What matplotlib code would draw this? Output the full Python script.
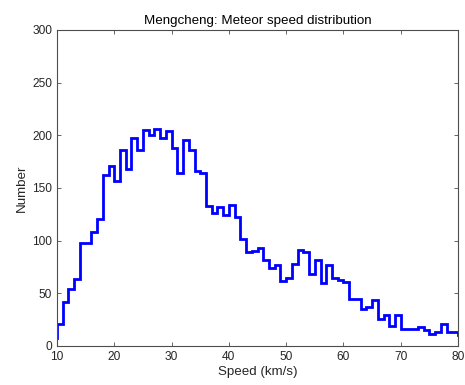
import numpy as np
import matplotlib
matplotlib.use("Agg")
import matplotlib.pyplot as plt

# Histogram of meteor speeds, 1 km/s bins (left edges 9..80)
bin_edges = np.arange(9, 82, 1)
counts = [
    8,                                  # 9
    21, 42, 54, 64, 98, 98, 108, 121, 162, 171,       # 10-19
    157, 186, 168, 197, 186, 205, 200, 206, 197, 204,  # 20-29
    188, 164, 196, 186, 166, 164, 133, 126, 132, 124,  # 30-39
    134, 122, 102, 89, 90, 93, 82, 74, 77, 62,         # 40-49
    65, 78, 91, 89, 68, 82, 60, 77, 65, 63,            # 50-59
    61, 45, 45, 35, 37, 44, 26, 29, 19, 29,            # 60-69
    16, 16, 16, 18, 15, 11, 13, 21, 13, 13,            # 70-79
    10,                                 # 80
]

x_ticks = [10, 20, 30, 40, 50, 60, 70, 80]
y_ticks = [0, 50, 100, 150, 200, 250, 300]

plt.rcParams["font.family"] = ["Liberation Sans", "DejaVu Sans"]

fig = plt.figure(figsize=(4.65, 3.85), dpi=100)
ax = fig.add_axes([0.1226, 0.1013, 0.8624, 0.8208])

ax.stairs(counts, bin_edges, color="#0000ff", linewidth=2.0, baseline=0)

ax.set_xlim(10, 80)
ax.set_ylim(0, 300)
ax.set_xticks(x_ticks)
ax.set_yticks(y_ticks)

gray = "#262626"
for side in ax.spines.values():
    side.set_color("#4d4d4d")
    side.set_linewidth(0.8)
ax.tick_params(direction="in", top=True, right=True, length=3,
               width=0.6, colors="#4d4d4d", labelcolor=gray, labelsize=8.6)

ax.set_xlabel("Speed (km/s)", fontsize=9.6, color=gray, labelpad=2)
ax.set_ylabel("Number", fontsize=9.6, color=gray, labelpad=3)
ax.set_title("Mengcheng: Meteor speed distribution", fontsize=9.6,
             color="#000000", pad=4)

fig.savefig("out.png", dpi=100)
